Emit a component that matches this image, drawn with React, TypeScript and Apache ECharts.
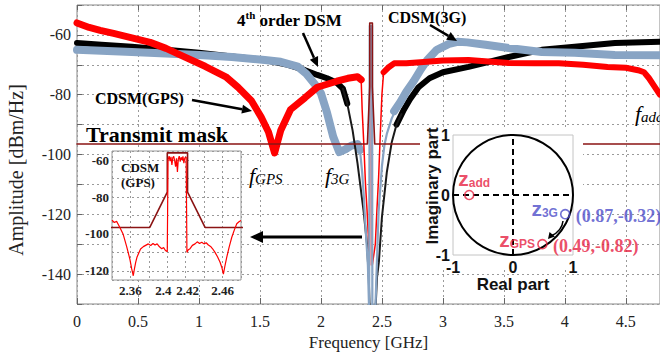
import React, { useEffect, useRef } from "react";
import * as echarts from "echarts";

// ---------- main chart data: [frequency (GHz), amplitude (dBm/Hz)] ----------
const redBandLow = [[0,-56],[0.1,-57.5],[0.19,-58.5],[0.3,-59.5],[0.45,-61],[0.6,-62.5],[0.73,-64.5],[0.89,-67.5],[1.05,-70.5],[1.22,-74],[1.32,-77.5],[1.43,-82],[1.51,-87.5],[1.57,-92.5],[1.62,-99.5],[1.67,-92],[1.75,-85],[1.87,-81],[1.97,-77.5],[2.05,-76.5],[2.13,-75.5],[2.22,-74.5],[2.3,-74],[2.33,-75]];
const redNotch = [[2.33,-75],[2.338,-85],[2.351,-96],[2.365,-109.6],[2.378,-118.6],[2.392,-129.7],[2.399,-137],[2.4008,-58],[2.4195,-58],[2.421,-137],[2.446,-130],[2.459,-118.6],[2.473,-107.6],[2.486,-94],[2.5,-80],[2.514,-72.5]];
const redBandHigh = [[2.514,-72.5],[2.55,-71],[2.6,-69.5],[2.7,-69.5],[2.87,-69],[3.0,-68.6],[3.21,-68.4],[3.4,-69],[3.54,-69.4],[3.75,-69.5],[3.95,-69.5],[4.15,-70],[4.35,-70.7],[4.5,-71],[4.6,-71.8],[4.65,-72.5],[4.69,-74.5],[4.73,-77],[4.78,-80]];

const blackBandLow = [[0,-62.7],[0.2,-63.3],[0.45,-64],[0.73,-65],[1.0,-66],[1.27,-67.2],[1.54,-68.4],[1.73,-70],[1.87,-71.8],[1.97,-73.4],[2.05,-74.5],[2.13,-76],[2.18,-78],[2.216,-83]];
const blackNotch = [[2.18,-78],[2.216,-83],[2.26,-92],[2.3,-103],[2.35,-119],[2.378,-130],[2.392,-141],[2.4,-152],[2.447,-152],[2.46,-141],[2.475,-136],[2.5,-121],[2.54,-106],[2.58,-96],[2.62,-90],[2.66,-86.5]];
const blackBandHigh = [[2.62,-90],[2.68,-85],[2.73,-81.5],[2.8,-77.5],[2.89,-74.5],[3.0,-72.5],[3.21,-70.7],[3.54,-67.4],[3.81,-65],[4.08,-64],[4.41,-62.7],[4.78,-62.3]];

const blueBandLow = [[0,-65],[0.2,-65.3],[0.45,-65.7],[0.73,-66.2],[1.0,-66.7],[1.27,-67.4],[1.54,-68.4],[1.67,-69],[1.81,-70.6],[1.88,-73],[1.95,-76.5],[2.0,-79.5],[2.05,-86],[2.1,-94],[2.15,-99.2],[2.2,-98.3],[2.25,-97],[2.3,-96.5],[2.32,-98.5]];
const blueNotch = [[2.3,-96.5],[2.32,-98.5],[2.338,-106],[2.35,-113],[2.365,-124],[2.385,-137],[2.395,-152],[2.3985,-152],[2.4005,-57],[2.4195,-57],[2.4215,-152],[2.446,-152],[2.459,-136],[2.473,-119],[2.5,-104],[2.52,-97],[2.541,-93],[2.58,-88],[2.62,-84.5]];
const blueBandHigh = [[2.6,-85.5],[2.65,-82.5],[2.7,-79],[2.76,-75.5],[2.82,-71.5],[2.87,-68.5],[2.95,-65],[3.05,-63],[3.12,-62.3],[3.2,-62.5],[3.35,-63.3],[3.54,-64.4],[3.81,-65.7],[4.08,-66],[4.41,-66.7],[4.78,-66.8]];

const transmitMask = [[0,-96.5],[2.381,-96.5],[2.4,-77.3],[2.4,-56],[2.422,-56],[2.422,-77.3],[2.441,-96.5],[4.78,-96.5]];

// ---------- inset (CDSM GPS, zoom around 2.41 GHz) ----------
const insetRed = [[2.34,-92.5],[2.3425,-93.8],[2.345,-93.2],[2.347,-95],[2.3495,-97.5],[2.352,-100],[2.354,-103.5],[2.356,-107],[2.3578,-110.5],[2.3595,-114],[2.3614,-119],[2.3631,-122.7],[2.3645,-118.5],[2.3657,-115.4],[2.3672,-112.5],[2.3686,-110.9],[2.371,-108.2],[2.374,-106.9],[2.3765,-106.2],[2.3794,-105.4],[2.382,-106.3],[2.3845,-105.2],[2.3867,-106],[2.389,-105.4],[2.3915,-107],[2.394,-108],[2.396,-107.4],[2.398,-109],[2.4,-109.6],
  [2.4008,-60],[2.402,-57.8],[2.403,-60.5],[2.404,-58.2],[2.405,-62.5],[2.406,-58.6],[2.407,-57.9],[2.408,-60.2],[2.409,-63.5],[2.41,-59],[2.411,-66.4],[2.412,-59.3],[2.413,-57.8],[2.414,-60.8],[2.415,-58.4],[2.416,-59.9],[2.417,-57.9],[2.418,-61.6],[2.419,-58.8],[2.4205,-58.3],
  [2.4213,-110],[2.4228,-108.6],[2.4247,-108],[2.4272,-106.2],[2.4301,-105.4],[2.4325,-104.3],[2.435,-105.2],[2.4374,-104.5],[2.4398,-105.4],[2.4422,-104.8],[2.4446,-106],[2.447,-106.8],[2.4494,-108.2],[2.4518,-110],[2.4545,-112.4],[2.4573,-115.4],[2.4592,-118.2],[2.4609,-121.8],[2.4627,-117],[2.4645,-112.7],[2.4672,-107],[2.47,-101.8],[2.4728,-97.8],[2.4754,-94.5],[2.4778,-93.4],[2.48,-92.7]];
const insetXTickLabels = [2.36, 2.4, 2.42, 2.46];
const insetYTickLabels = [-60, -80, -100, -120];
const mainYTickLabels = [-60, -80, -100, -120, -140];
const mainXTickLabels = [0, 0.5, 1, 1.5, 2, 2.5, 3, 3.5, 4, 4.5];

// ---------- unit circle (z-plane) ----------
const unitCircle = [[0, 0, 1]];
const realAxisLine = [[-1, 0], [1, 0]];
const imagAxisLine = [[0, -1], [0, 1]];
const zAdd = [-0.73, 0];
const z3G = [0.87, -0.32];
const zGPS = [0.49, -0.82];

const SERIF = '"Liberation Serif", "Times New Roman", serif';
const SANS = '"Liberation Sans", Arial, sans-serif';
const CRIMSON = "#E6203F";
const ZBLUE = "#4B4BC8";
const RED = "#FF0000";
const BLUE = "#88A4C4";
const MASK = "#8B1414";

function arrow(x1: number, y1: number, x2: number, y2: number, w: number, head: number, headW: number) {
  const dx = x2 - x1, dy = y2 - y1, L = Math.hypot(dx, dy);
  const ux = dx / L, uy = dy / L;
  const bx = x2 - ux * head, by = y2 - uy * head;
  const px = -uy * headW, py = ux * headW;
  return [
    { type: "line", z: 100, shape: { x1, y1, x2: bx, y2: by }, style: { stroke: "#000", lineWidth: w } },
    { type: "polygon", z: 100, shape: { points: [[x2, y2], [bx + px, by + py], [bx - px, by - py]] }, style: { fill: "#000" } },
  ];
}

function mainLine(data: number[][], color: string, width: number) {
  return {
    type: "line", xAxisIndex: 0, yAxisIndex: 0, data, showSymbol: false, symbol: "none",
    lineStyle: { color, width, join: "round", cap: "round" }, silent: true,
  };
}

export default function App() {
  const ref = useRef<HTMLDivElement>(null);
  useEffect(() => {
    document.body.style.margin = "0";
    const chart = echarts.init(ref.current!, null, { renderer: "svg" });
    const dotted = { show: true, lineStyle: { color: "#9a9a9a", type: [2, 3], width: 1 } };
    const option: any = {
      animation: false,
      grid: [
        { left: 77, top: 5, right: -6, bottom: 58, show: true, borderColor: "#888", borderWidth: 1, backgroundColor: "transparent" },
        { left: 112, top: 151, width: 129, height: 129, show: true, borderColor: "#999", borderWidth: 1, backgroundColor: "#fff", z: 60 },
        { left: 453, top: 135, width: 120, height: 120, show: true, borderColor: "#c4c4c4", borderWidth: 1, backgroundColor: "#fff", z: 60 },
      ],
      xAxis: [
        {
          type: "value", gridIndex: 0, min: 0, max: 4.78, interval: 0.5,
          axisLine: { show: false }, axisTick: { show: true, inside: true, length: 6, lineStyle: { color: "#666" } },
          axisLabel: { showMaxLabel: false, margin: 9, fontSize: 16, color: "#222", fontFamily: SERIF,
            formatter: (v: number) => (mainXTickLabels.includes(+v.toFixed(2)) ? String(+v.toFixed(2)) : "") },
          splitLine: dotted,
          name: "Frequency [GHz]", nameLocation: "middle", nameGap: 30,
          nameTextStyle: { fontSize: 17, color: "#222", fontFamily: SERIF },
        },
        {
          type: "value", gridIndex: 0, position: "top", min: 0, max: 4.78, interval: 0.5,
          axisLine: { show: false }, axisTick: { show: true, inside: true, length: 5, lineStyle: { color: "#666" } },
          axisLabel: { show: false }, splitLine: { show: false },
        },
        {
          type: "value", gridIndex: 1, min: 2.34, max: 2.48, interval: 0.02, z: 61,
          axisLine: { show: false }, axisTick: { show: false },
          axisLabel: { margin: 4, fontSize: 13, fontWeight: "bold", color: "#222", fontFamily: SERIF, showMaxLabel: false, showMinLabel: false,
            formatter: (v: number) => {
              const t = +v.toFixed(2);
              if (!insetXTickLabels.includes(t)) return "";
              if (t === 2.4) return `{l|${t}}`;
              if (t === 2.42) return `{r|${t}}`;
              return String(t);
            },
            rich: {
              l: { fontSize: 13, fontWeight: "bold", fontFamily: SERIF, color: "#222", padding: [0, 8, 0, 0] },
              r: { fontSize: 13, fontWeight: "bold", fontFamily: SERIF, color: "#222", padding: [0, 0, 0, 4] },
            } },
          splitLine: dotted,
        },
        {
          type: "value", gridIndex: 2, min: -1, max: 1, interval: 1, z: 61,
          axisLine: { show: false }, axisTick: { show: false }, splitLine: { show: false },
          axisLabel: { margin: 4, fontSize: 16, fontWeight: "bold", color: "#111", fontFamily: SANS },
          name: "Real part", nameLocation: "middle", nameGap: 20,
          nameTextStyle: { fontSize: 17, fontWeight: "bold", color: "#111", fontFamily: SANS },
        },
      ],
      yAxis: [
        {
          type: "value", gridIndex: 0, min: -150, max: -50, interval: 10,
          axisLine: { show: false }, axisTick: { show: true, inside: true, length: 5, lineStyle: { color: "#666" } },
          axisLabel: { margin: 6, fontSize: 16, color: "#222", fontFamily: SERIF,
            formatter: (v: number) => (mainYTickLabels.includes(Math.round(v)) ? String(Math.round(v)) : "") },
          splitLine: dotted,
        },
        {
          type: "value", gridIndex: 1, min: -125, max: -55, splitNumber: 7, z: 61,
          axisLine: { show: false }, axisTick: { show: false },
          axisLabel: { margin: 3, fontSize: 13, fontWeight: "bold", color: "#222", fontFamily: SERIF,
            formatter: (v: number) => (insetYTickLabels.includes(Math.round(v)) ? String(Math.round(v)) : "") },
          splitLine: dotted,
        },
        {
          type: "value", gridIndex: 2, min: -1, max: 1, interval: 1, z: 61,
          axisLine: { show: false }, axisTick: { show: false }, splitLine: { show: false },
          axisLabel: { margin: 3, fontSize: 16, fontWeight: "bold", color: "#111", fontFamily: SANS },
        },
      ],
      series: [
        mainLine(blackBandLow, "#000", 6),
        mainLine(blackBandHigh, "#000", 6),
        mainLine(blueBandLow, BLUE, 8),
        mainLine(blueBandHigh, BLUE, 8),
        mainLine(redBandLow, RED, 7),
        mainLine(redBandHigh, RED, 6),
        mainLine(blackNotch, "#1a1a1a", 2),
        mainLine(redNotch, RED, 1.5),
        mainLine(blueNotch, BLUE, 2.2),
        mainLine(transmitMask, MASK, 1.6),
        // inset
        { type: "line", xAxisIndex: 2, yAxisIndex: 1, z: 62, data: transmitMask, showSymbol: false, symbol: "none",
          lineStyle: { color: MASK, width: 1.6 } },
        { type: "line", xAxisIndex: 2, yAxisIndex: 1, z: 62, data: insetRed, showSymbol: false, symbol: "none",
          lineStyle: { color: RED, width: 1.2 } },
        // unit circle
        { type: "custom", xAxisIndex: 3, yAxisIndex: 2, z: 62, data: unitCircle, clip: false,
          renderItem: (_p: any, api: any) => {
            const c = api.coord([api.value(0), api.value(1)]);
            const e = api.coord([api.value(0) + api.value(2), api.value(1)]);
            return { type: "circle", shape: { cx: c[0], cy: c[1], r: e[0] - c[0] }, style: { fill: "transparent", stroke: "#000", lineWidth: 2 } };
          } },
        { type: "line", xAxisIndex: 3, yAxisIndex: 2, z: 62, data: realAxisLine, showSymbol: false, symbol: "none",
          lineStyle: { color: "#000", width: 2, type: [6, 4] } },
        { type: "line", xAxisIndex: 3, yAxisIndex: 2, z: 62, data: imagAxisLine, showSymbol: false, symbol: "none",
          lineStyle: { color: "#000", width: 2, type: [6, 4] } },
        { type: "scatter", xAxisIndex: 3, yAxisIndex: 2, z: 63, symbol: "circle", symbolSize: 9,
          data: [
            { name: "add", value: zAdd, itemStyle: { borderColor: CRIMSON },
              label: { position: "top", distance: 1, offset: [5, 0], rich: { z: { color: CRIMSON }, s: { color: CRIMSON } } } },
            { name: "3G", value: z3G, itemStyle: { borderColor: ZBLUE },
              label: { position: "left", distance: 2, offset: [0, -6], rich: { z: { color: ZBLUE }, s: { color: ZBLUE } } } },
            { name: "GPS", value: zGPS, itemStyle: { borderColor: CRIMSON },
              label: { position: "left", distance: 2, offset: [0, -5], rich: { z: { color: CRIMSON }, s: { color: CRIMSON } } } },
          ],
          itemStyle: { color: "rgba(255,255,255,0)", borderWidth: 1.6 },
          label: { show: true, formatter: (p: any) => `{z|z}{s|${p.name}}`,
            rich: {
              z: { fontSize: 21, fontWeight: "bold", fontFamily: SANS, verticalAlign: "bottom", lineHeight: 22 },
              s: { fontSize: 12, fontWeight: "bold", fontFamily: SANS, verticalAlign: "bottom", lineHeight: 22 },
            } } },
        { type: "scatter", xAxisIndex: 3, yAxisIndex: 2, z: 63, symbol: "circle", symbolSize: 1,
          itemStyle: { color: "rgba(0,0,0,0)" },
          data: [
            { value: z3G, label: { color: ZBLUE, offset: [0, 2] } },
            { value: zGPS, label: { color: CRIMSON, offset: [0, 2] } },
          ],
          label: { show: true, position: "right", distance: 10, fontSize: 18, fontWeight: "bold", fontFamily: SERIF,
            formatter: (p: any) => `(${p.value[0]},${p.value[1]})` } },
      ],
      graphic: [
        { type: "rect", z: 50, silent: true, shape: { x: 420, y: 127, width: 163, height: 141 }, style: { fill: "#fff" } },
        { type: "text", z: 100, x: 16, y: 170, rotation: Math.PI / 2,
          style: { text: "Amplitude [dBm/Hz]", fontSize: 20, fontFamily: SERIF, fill: "#222", align: "center", verticalAlign: "middle" } },
        { type: "text", z: 100, x: 432, y: 186, rotation: Math.PI / 2,
          style: { text: "Imaginary part", fontSize: 17, fontWeight: "bold", fontFamily: SANS, fill: "#111", align: "center", verticalAlign: "middle" } },
        { type: "text", z: 100, x: 237, y: 19,
          style: { text: "{a|4}{s|th}{a| order DSM}", verticalAlign: "middle", fill: "#000",
            rich: { a: { fontSize: 17, fontWeight: "bold", fontFamily: SERIF, verticalAlign: "bottom", lineHeight: 20 },
                    s: { fontSize: 11, fontWeight: "bold", fontFamily: SERIF, verticalAlign: "top", lineHeight: 11 } } } },
        { type: "text", z: 100, x: 388, y: 17,
          style: { text: "CDSM(3G)", fontSize: 16, fontWeight: "bold", fontFamily: SERIF, fill: "#000", verticalAlign: "middle" } },
        { type: "text", z: 100, x: 95, y: 98,
          style: { text: "CDSM(GPS)", fontSize: 16, fontWeight: "bold", fontFamily: SERIF, fill: "#000", verticalAlign: "middle" } },
        { type: "text", z: 100, x: 86, y: 134,
          style: { text: "Transmit mask", fontSize: 22, fontWeight: "bold", fontFamily: SERIF, fill: "#000", verticalAlign: "middle" } },
        { type: "text", z: 100, x: 249, y: 174,
          style: { text: "{f|f}{s|GPS}", verticalAlign: "middle",
            rich: { f: { fontSize: 22, fontStyle: "italic", fontFamily: SERIF, fill: "#000", verticalAlign: "bottom", lineHeight: 24 },
                    s: { fontSize: 15, fontStyle: "italic", fontFamily: SERIF, fill: "#000", verticalAlign: "bottom", lineHeight: 22 } } } },
        { type: "text", z: 100, x: 325, y: 174,
          style: { text: "{f|f}{s|3G}", verticalAlign: "middle",
            rich: { f: { fontSize: 22, fontStyle: "italic", fontFamily: SERIF, fill: "#000", verticalAlign: "bottom", lineHeight: 24 },
                    s: { fontSize: 15, fontStyle: "italic", fontFamily: SERIF, fill: "#000", verticalAlign: "bottom", lineHeight: 22 } } } },
        { type: "text", z: 100, x: 635, y: 112,
          style: { text: "{f|f}{s|add}", verticalAlign: "middle",
            rich: { f: { fontSize: 22, fontStyle: "italic", fontFamily: SERIF, fill: "#000", verticalAlign: "bottom", lineHeight: 24 },
                    s: { fontSize: 15, fontStyle: "italic", fontFamily: SERIF, fill: "#000", verticalAlign: "bottom", lineHeight: 22 } } } },
        { type: "text", z: 100, x: 121, y: 175,
          style: { text: "CDSM\n(GPS)", fontSize: 13, lineHeight: 15, fontWeight: "bold", fontFamily: SERIF, fill: "#111", verticalAlign: "middle" } },
        ...arrow(303, 33, 318, 67, 2.5, 10, 4.5),
        ...arrow(430, 25, 457, 41, 2.5, 10, 4.5),
        ...arrow(192, 100, 252, 111, 2.5, 10, 4.5),
        ...arrow(362, 237, 250, 237, 3, 13, 6),
        { type: "bezierCurve", z: 100, shape: { x1: 563, y1: 221, x2: 551, y2: 236, cpx1: 562, cpy1: 231 },
          style: { stroke: "#000", lineWidth: 1.5, fill: "none" } },
        { type: "polygon", z: 100, shape: { points: [[548, 239], [549.5, 232], [555, 236.5]] }, style: { fill: "#000" } },
      ],
    };
    chart.setOption(option);
    return () => chart.dispose();
  }, []);
  return <div ref={ref} style={{ width: 660, height: 362 }} />;
}
